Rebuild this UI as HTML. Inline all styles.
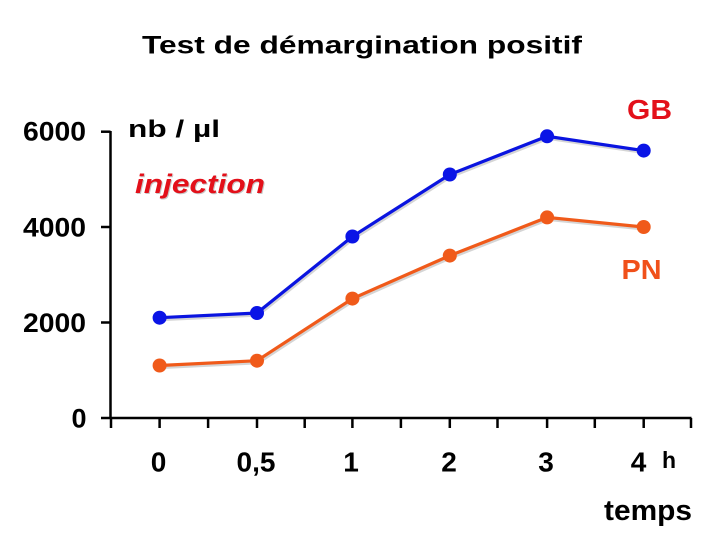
<!DOCTYPE html>
<html><head><meta charset="utf-8"><style>
html,body{margin:0;padding:0;background:#fff;}
svg{display:block;}
text{font-family:"Liberation Sans",Arial,sans-serif;}
</style></head><body>
<svg width="720" height="540" viewBox="0 0 720 540" xmlns="http://www.w3.org/2000/svg">
<text x="142" y="53.5" font-size="25" font-weight="bold" textLength="440" lengthAdjust="spacingAndGlyphs" fill="#000">Test de démargination positif</text>

<!-- axes -->
<g stroke="#000" stroke-width="2.5" fill="none">
<line x1="110.5" y1="131" x2="110.5" y2="419"/>
<line x1="101" y1="131.7" x2="110.5" y2="131.7"/>
<line x1="101" y1="227" x2="110.5" y2="227"/>
<line x1="101" y1="322.5" x2="110.5" y2="322.5"/>
<line x1="101" y1="418" x2="691.5" y2="418"/>
<line x1="111" y1="418" x2="111" y2="428"/>
<line x1="159.6" y1="418" x2="159.6" y2="428"/>
<line x1="208.1" y1="418" x2="208.1" y2="428"/>
<line x1="257" y1="418" x2="257" y2="428"/>
<line x1="304.7" y1="418" x2="304.7" y2="428"/>
<line x1="352.4" y1="418" x2="352.4" y2="428"/>
<line x1="400.9" y1="418" x2="400.9" y2="428"/>
<line x1="449.8" y1="418" x2="449.8" y2="428"/>
<line x1="497.5" y1="418" x2="497.5" y2="428"/>
<line x1="547.1" y1="418" x2="547.1" y2="428"/>
<line x1="594.8" y1="418" x2="594.8" y2="428"/>
<line x1="643.7" y1="418" x2="643.7" y2="428"/>
<line x1="691" y1="418" x2="691" y2="428"/>
</g>

<g font-size="27" font-weight="bold" fill="#000">
<text x="23" y="140.7" textLength="63" lengthAdjust="spacingAndGlyphs">6000</text>
<text x="23" y="236.3" textLength="63" lengthAdjust="spacingAndGlyphs">4000</text>
<text x="23" y="331.8" textLength="63" lengthAdjust="spacingAndGlyphs">2000</text>
<text x="86.5" y="427.5" text-anchor="end">0</text>
</g>
<text x="128" y="137" font-size="24" font-weight="bold" fill="#000" textLength="92" lengthAdjust="spacingAndGlyphs">nb / µl</text>

<g font-size="28" font-weight="bold" fill="#000" text-anchor="middle">
<text x="158.5" y="471.5">0</text>
<text x="256" y="471.5">0,5</text>
<text x="351" y="471.5">1</text>
<text x="449" y="471.5">2</text>
<text x="546" y="471.5">3</text>
<text x="638.5" y="471.5">4</text>
<text x="669" y="468" font-size="23">h</text>
</g>
<text x="604" y="520" font-size="29" font-weight="bold" fill="#000" textLength="88" lengthAdjust="spacingAndGlyphs">temps</text>

<text x="136" y="194" font-size="27" font-weight="bold" font-style="italic" fill="#c8c8c8" textLength="130" lengthAdjust="spacingAndGlyphs">injection</text>
<text x="135" y="193" font-size="27" font-weight="bold" font-style="italic" fill="#e3101a" textLength="130" lengthAdjust="spacingAndGlyphs">injection</text>
<text x="627" y="119" font-size="28" font-weight="bold" fill="#e3101a" textLength="45" lengthAdjust="spacingAndGlyphs">GB</text>
<text x="621.5" y="279" font-size="28" font-weight="bold" fill="#f0501a" textLength="40" lengthAdjust="spacingAndGlyphs">PN</text>

<!-- shadows -->
<g transform="translate(1,2)" opacity="0.35">
<polyline points="159.6,317.7 257,313 352.4,236.5 449.8,174.5 547.1,136.3 643.7,150.6" fill="none" stroke="#888" stroke-width="3.2"/>
<polyline points="159.6,365.5 257,360.7 352.4,298.6 449.8,255.6 547.1,217.4 643.7,227" fill="none" stroke="#888" stroke-width="3.2"/>
</g>

<polyline points="159.6,317.7 257,313 352.4,236.5 449.8,174.5 547.1,136.3 643.7,150.6" fill="none" stroke="#0a14e0" stroke-width="3.2"/>
<g fill="#0a14e6">
<circle cx="159.6" cy="317.7" r="7"/>
<circle cx="257" cy="313" r="7"/>
<circle cx="352.4" cy="236.5" r="7"/>
<circle cx="449.8" cy="174.5" r="7"/>
<circle cx="547.1" cy="136.3" r="7"/>
<circle cx="643.7" cy="150.6" r="7"/>
</g>

<polyline points="159.6,365.5 257,360.7 352.4,298.6 449.8,255.6 547.1,217.4 643.7,227" fill="none" stroke="#f05a1a" stroke-width="3.2"/>
<g fill="#f05a1a">
<circle cx="159.6" cy="365.5" r="7"/>
<circle cx="257" cy="360.7" r="7"/>
<circle cx="352.4" cy="298.6" r="7"/>
<circle cx="449.8" cy="255.6" r="7"/>
<circle cx="547.1" cy="217.4" r="7"/>
<circle cx="643.7" cy="227" r="7"/>
</g>
</svg>
</body></html>
